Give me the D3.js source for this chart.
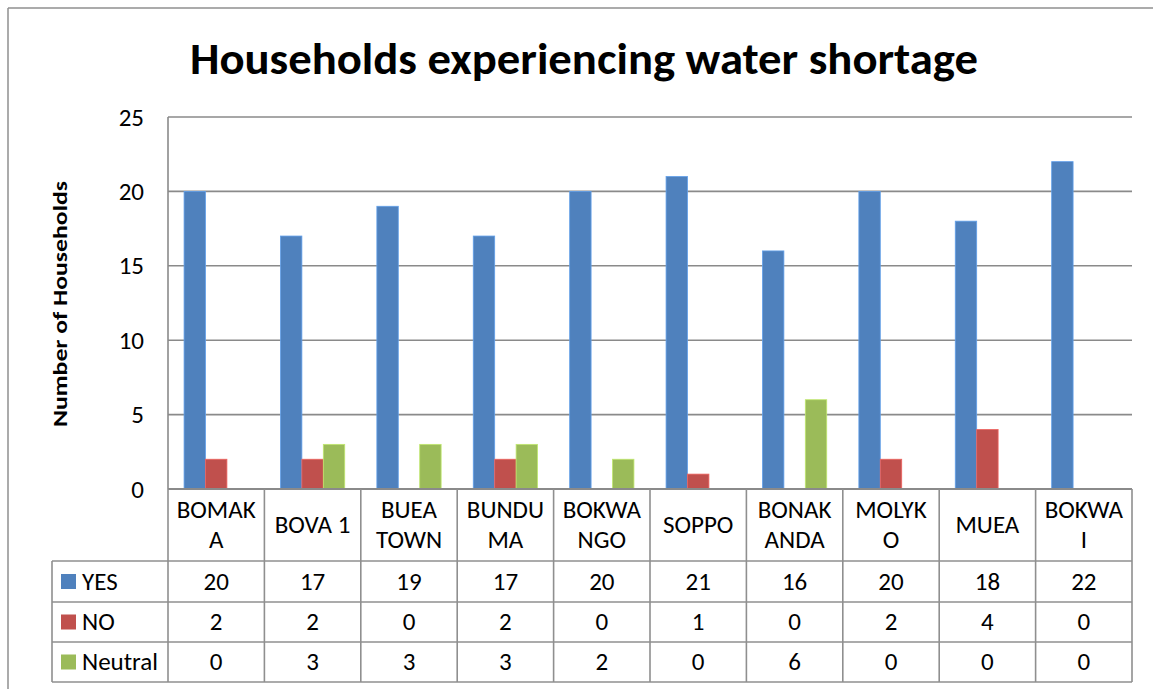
<!DOCTYPE html>
<html>
<head>
<meta charset="utf-8">
<script src="https://cdn.jsdelivr.net/npm/d3@7"></script>
<style>
  html, body { margin: 0; padding: 0; background: #fff; }
  svg { display: block; }
  text { font-family: Carlito, "Open Sans", "Liberation Sans", sans-serif; fill: #000; }
</style>
</head>
<body>
<svg id="chart" width="1153" height="689"></svg>
<script>
// ---- data ----
const categories = ["BOMAKA", "BOVA 1", "BUEA TOWN", "BUNDUMA", "BOKWANGO", "SOPPO", "BONAKANDA", "MOLYKO", "MUEA", "BOKWAI"];
const categoryLabelLines = [["BOMAK", "A"], ["BOVA 1"], ["BUEA", "TOWN"], ["BUNDU", "MA"], ["BOKWA", "NGO"], ["SOPPO"], ["BONAK", "ANDA"], ["MOLYK", "O"], ["MUEA"], ["BOKWA", "I"]];
const seriesNames = ["YES", "NO", "Neutral"];
const yesValues = [20, 17, 19, 17, 20, 21, 16, 20, 18, 22];
const noValues = [2, 2, 0, 2, 0, 1, 0, 2, 4, 0];
const neutralValues = [0, 3, 3, 3, 2, 0, 6, 0, 0, 0];
const yTicks = [0, 5, 10, 15, 20, 25];
const titleText = "Households experiencing water shortage";
const yAxisTitle = "Number of Households";

// ---- layout ----
const seriesValues = [yesValues, noValues, neutralValues];
const colors = ["#4F81BD", "#C0504D", "#9BBB59"];
const plot = { left: 168, right: 1132, top: 117, bottom: 489 };
const tableLeft = 52;
const headerBottom = 561;
const rowBounds = [561, 602, 642, 682];
const gridColor = "#8a8a8a";
const fs = "25px";

const svg = d3.select("#chart");

// outer frame (partially cropped)
svg.append("line").attr("x1", 8).attr("x2", 1153).attr("y1", 8).attr("y2", 8)
  .attr("stroke", "#8f8f8f").attr("stroke-width", 1.5);
svg.append("line").attr("x1", 8).attr("x2", 8).attr("y1", 8).attr("y2", 689)
  .attr("stroke", "#8f8f8f").attr("stroke-width", 1.5);

const x = d3.scaleBand().domain(categories).range([plot.left, plot.right]).padding(0);
const y = d3.scaleLinear().domain([0, 25]).range([plot.bottom, plot.top]);
const barW = x.bandwidth() / 4.5;
const xs = d3.scaleBand().domain(seriesNames).range([0, barW * 3]).padding(0);
const groupOffset = (x.bandwidth() - barW * 3) / 2;

// gridlines
const grid = svg.append("g");
grid.selectAll("line").data(yTicks).join("line")
  .attr("x1", plot.left).attr("x2", plot.right)
  .attr("y1", d => y(d)).attr("y2", d => y(d))
  .attr("stroke", gridColor).attr("stroke-width", 1.6);
// value axis line
svg.append("line").attr("x1", plot.left).attr("x2", plot.left)
  .attr("y1", plot.top).attr("y2", plot.bottom)
  .attr("stroke", gridColor).attr("stroke-width", 1.6);

// y axis tick labels via d3 axis
const yAxis = d3.axisLeft(y).tickValues(yTicks).tickSize(0).tickPadding(0);
const yg = svg.append("g").attr("transform", `translate(144,0)`).call(yAxis);
yg.select(".domain").remove();
yg.selectAll("text").style("font-size", fs).attr("fill", "#000")
  .style("font-family", 'Carlito, "Open Sans", sans-serif');

// bars
const groups = svg.append("g").selectAll("g").data(categories).join("g")
  .attr("transform", d => `translate(${x(d) + groupOffset},0)`);
groups.selectAll("rect")
  .data((d, i) => seriesNames.map((s, j) => ({ s, v: seriesValues[j][i], j })))
  .join("rect")
  .attr("x", d => xs(d.s))
  .attr("width", xs.bandwidth())
  .attr("y", d => y(d.v))
  .attr("height", d => y(0) - y(d.v))
  .attr("fill", d => colors[d.j])
  .attr("stroke", d => d3.color(colors[d.j]).brighter(0.6))
  .attr("stroke-width", d => d.v > 0 ? 0.8 : 0);

// redraw baseline over bars
svg.append("line").attr("x1", plot.left).attr("x2", plot.right)
  .attr("y1", y(0)).attr("y2", y(0)).attr("stroke", gridColor).attr("stroke-width", 1.8);

// ---- data table ----
const tbl = svg.append("g");
const tStroke = "#8f8f8f";
const colEdges = categories.map(c => x(c)).concat([plot.right]);
tbl.selectAll("line.col").data(colEdges).join("line").attr("class", "col")
  .attr("x1", d => d).attr("x2", d => d).attr("y1", plot.bottom).attr("y2", rowBounds[3])
  .attr("stroke", tStroke).attr("stroke-width", 1.6);
tbl.selectAll("line.row").data(rowBounds).join("line").attr("class", "row")
  .attr("x1", tableLeft).attr("x2", plot.right).attr("y1", d => d).attr("y2", d => d)
  .attr("stroke", tStroke).attr("stroke-width", 1.6);
tbl.append("line").attr("x1", tableLeft).attr("x2", tableLeft)
  .attr("y1", rowBounds[0]).attr("y2", rowBounds[3])
  .attr("stroke", tStroke).attr("stroke-width", 1.6);

// category header labels
const hdr = tbl.selectAll("text.cat").data(categories).join("text").attr("class", "cat")
  .attr("text-anchor", "middle")
  .style("font-size", fs);
hdr.each(function (c, i) {
  const lines = categoryLabelLines[i];
  const cx = x(c) + x.bandwidth() / 2;
  const mid = (plot.bottom + headerBottom) / 2;
  const lh = 30;
  const startY = mid - (lines.length - 1) * lh / 2;
  d3.select(this).selectAll("tspan").data(lines).join("tspan")
    .attr("x", cx).attr("y", (d, k) => startY + k * lh).attr("dy", "0.33em")
    .text(d => d);
});

// rows
seriesNames.forEach((s, j) => {
  const cy = (rowBounds[j] + rowBounds[j + 1]) / 2;
  tbl.append("rect").attr("x", 61).attr("y", cy - 7.5).attr("width", 15).attr("height", 15)
    .attr("fill", colors[j]);
  tbl.append("text").attr("x", 82).attr("y", cy).attr("dy", "0.33em")
    .style("font-size", fs).text(s);
  tbl.selectAll(null).data(categories).join("text")
    .attr("x", c => x(c) + x.bandwidth() / 2).attr("y", cy).attr("dy", "0.33em")
    .attr("text-anchor", "middle").style("font-size", fs)
    .text((c, i) => seriesValues[j][i]);
});

// title
svg.append("text").attr("x", 584).attr("y", 74).attr("text-anchor", "middle")
  .style("font-size", "44px").style("font-weight", "bold")
  .attr("textLength", 788).attr("lengthAdjust", "spacingAndGlyphs")
  .text(titleText);

// y axis title
svg.append("text")
  .attr("transform", `translate(67,${(plot.top + plot.bottom) / 2 + 1}) rotate(-90)`)
  .attr("text-anchor", "middle")
  .style("font-size", "20px").style("font-weight", "bold")
  .attr("textLength", 246).attr("lengthAdjust", "spacingAndGlyphs")
  .text(yAxisTitle);
</script>
</body>
</html>
